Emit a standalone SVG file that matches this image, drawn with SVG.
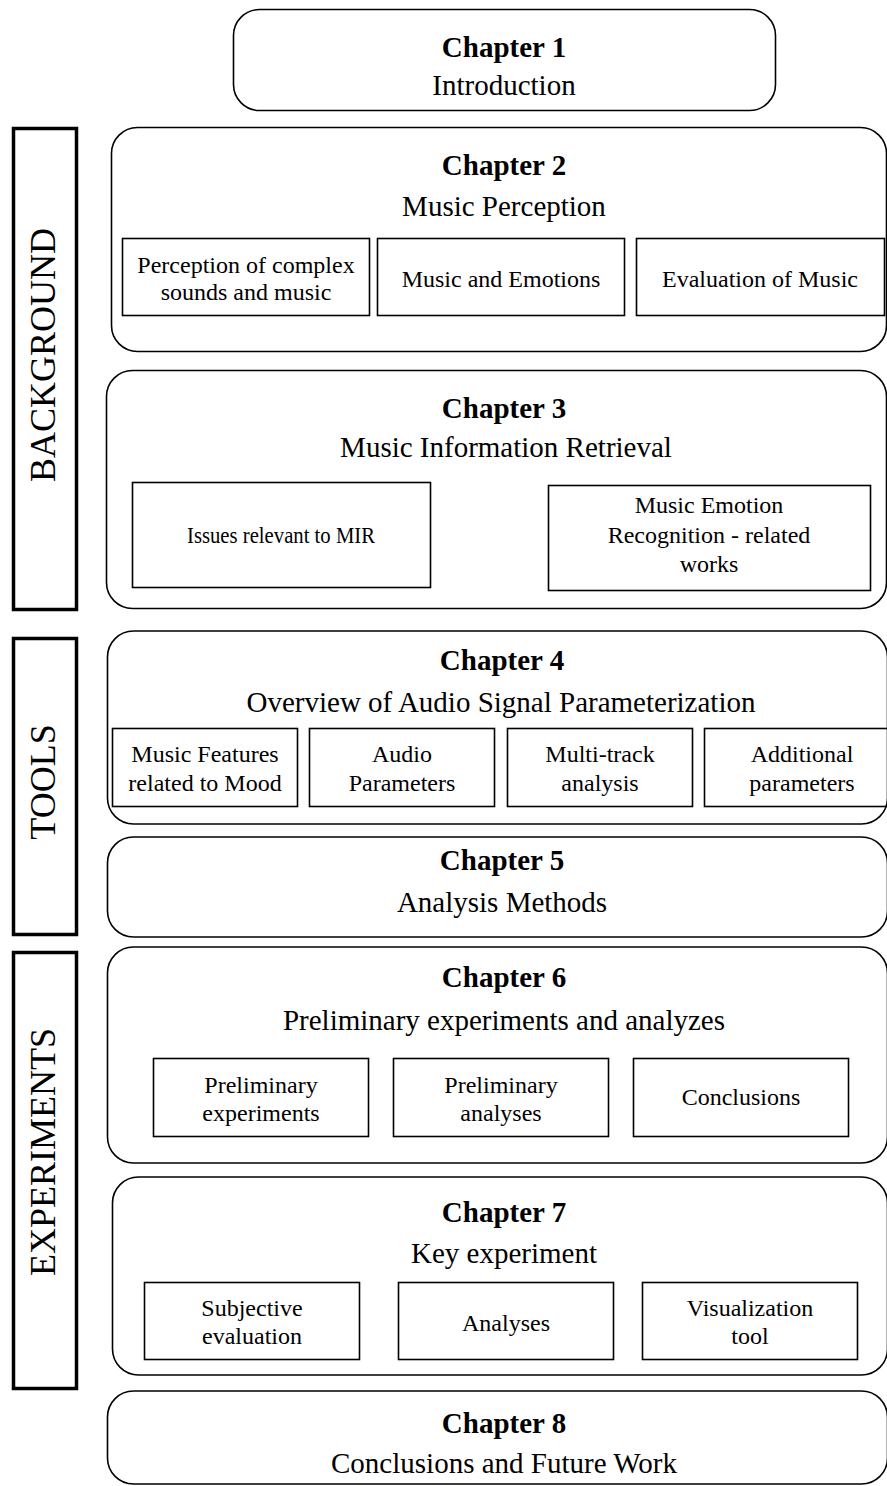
<svg xmlns="http://www.w3.org/2000/svg" width="887" height="1486" viewBox="0 0 887 1486">
  <style>
    .bg { fill: #ffffff; }
    .chapter { fill: none; stroke: #000; stroke-width: 1.6; }
    .sub { fill: none; stroke: #000; stroke-width: 1.6; }
    .band { fill: none; stroke: #000; stroke-width: 3.5; }
    text { font-family: "Liberation Serif", "Times New Roman", serif; fill: #000; text-anchor: middle; }
    .num { font-size: 29px; font-weight: bold; }
    .title { font-size: 29px; }
    .item { font-size: 24px; }
    .side { font-size: 36px; }
  </style>
  <rect class="bg" x="0" y="0" width="887" height="1486"/>

  <!-- part bands on the left -->
  <g id="part-background">
    <rect class="band" x="13.5" y="128.5" width="63" height="481"/>
    <text class="side" transform="rotate(-90 55 355)" x="55" y="355">BACKGROUND</text>
  </g>
  <g id="part-tools">
    <rect class="band" x="13.5" y="638.5" width="63" height="296"/>
    <text class="side" transform="rotate(-90 55 782)" x="55" y="782">TOOLS</text>
  </g>
  <g id="part-experiments">
    <rect class="band" x="13.5" y="952.5" width="63" height="436"/>
    <text class="side" transform="rotate(-90 55 1152)" x="55" y="1152">EXPERIMENTS</text>
  </g>

  <!-- Chapter 1 -->
  <g id="ch1">
    <rect class="chapter" x="233.5" y="9.5" width="542" height="101" rx="26"/>
    <text class="num" x="504" y="56.5">Chapter 1</text>
    <text class="title" x="504" y="94.5">Introduction</text>
  </g>

  <!-- Chapter 2 -->
  <g id="ch2">
    <rect class="chapter" x="111.5" y="127.5" width="775" height="224" rx="26"/>
    <text class="num" x="504" y="174.5">Chapter 2</text>
    <text class="title" x="504" y="215.5">Music Perception</text>
    <g id="ch2-perception">
      <rect class="sub" x="122.5" y="238.5" width="247" height="77"/>
      <text class="item" x="246" y="273">Perception of complex</text>
      <text class="item" x="246" y="300">sounds and music</text>
    </g>
    <g id="ch2-emotions">
      <rect class="sub" x="377.5" y="238.5" width="247" height="77"/>
      <text class="item" x="501" y="287">Music and Emotions</text>
    </g>
    <g id="ch2-evaluation">
      <rect class="sub" x="636.5" y="238.5" width="248" height="77"/>
      <text class="item" x="760" y="287">Evaluation of Music</text>
    </g>
  </g>

  <!-- Chapter 3 -->
  <g id="ch3">
    <rect class="chapter" x="106.5" y="370.5" width="780" height="238" rx="26"/>
    <text class="num" x="504" y="417.5">Chapter 3</text>
    <text class="title" x="506" y="456.5">Music Information Retrieval</text>
    <g id="ch3-issues">
      <rect class="sub" x="132.5" y="482.5" width="298" height="105"/>
      <text class="item" x="281" y="543" textLength="188" lengthAdjust="spacingAndGlyphs">Issues relevant to MIR</text>
    </g>
    <g id="ch3-mer">
      <rect class="sub" x="548.5" y="485.5" width="322" height="105"/>
      <text class="item" x="709" y="513">Music Emotion</text>
      <text class="item" x="709" y="543">Recognition - related</text>
      <text class="item" x="709" y="572">works</text>
    </g>
  </g>

  <!-- Chapter 4 -->
  <g id="ch4">
    <rect class="chapter" x="107.5" y="631" width="780" height="193" rx="26"/>
    <text class="num" x="502" y="669.5">Chapter 4</text>
    <text class="title" x="501" y="711.5">Overview of Audio Signal Parameterization</text>
    <g id="ch4-features">
      <rect class="sub" x="112.5" y="728.5" width="185" height="78"/>
      <text class="item" x="205" y="762">Music Features</text>
      <text class="item" x="205" y="791">related to Mood</text>
    </g>
    <g id="ch4-audio">
      <rect class="sub" x="309.5" y="728.5" width="185" height="78"/>
      <text class="item" x="402" y="762">Audio</text>
      <text class="item" x="402" y="791">Parameters</text>
    </g>
    <g id="ch4-multitrack">
      <rect class="sub" x="507.5" y="728.5" width="185" height="78"/>
      <text class="item" x="600" y="762">Multi-track</text>
      <text class="item" x="600" y="791">analysis</text>
    </g>
    <g id="ch4-additional">
      <rect class="sub" x="704.5" y="728.5" width="196" height="78"/>
      <text class="item" x="802" y="762">Additional</text>
      <text class="item" x="802" y="791">parameters</text>
    </g>
  </g>

  <!-- Chapter 5 -->
  <g id="ch5">
    <rect class="chapter" x="107.5" y="837" width="780" height="100" rx="26"/>
    <text class="num" x="502" y="869.5">Chapter 5</text>
    <text class="title" x="502" y="911.5">Analysis Methods</text>
  </g>

  <!-- Chapter 6 -->
  <g id="ch6">
    <rect class="chapter" x="107.5" y="947" width="780" height="216" rx="26"/>
    <text class="num" x="504" y="986.5">Chapter 6</text>
    <text class="title" x="504" y="1029.5">Preliminary experiments and analyzes</text>
    <g id="ch6-experiments">
      <rect class="sub" x="153.5" y="1058.5" width="215" height="78"/>
      <text class="item" x="261" y="1093">Preliminary</text>
      <text class="item" x="261" y="1121">experiments</text>
    </g>
    <g id="ch6-analyses">
      <rect class="sub" x="393.5" y="1058.5" width="215" height="78"/>
      <text class="item" x="501" y="1093">Preliminary</text>
      <text class="item" x="501" y="1121">analyses</text>
    </g>
    <g id="ch6-conclusions">
      <rect class="sub" x="633.5" y="1058.5" width="215" height="78"/>
      <text class="item" x="741" y="1105">Conclusions</text>
    </g>
  </g>

  <!-- Chapter 7 -->
  <g id="ch7">
    <rect class="chapter" x="112.5" y="1177" width="775" height="198" rx="26"/>
    <text class="num" x="504" y="1221.5">Chapter 7</text>
    <text class="title" x="504" y="1262.5">Key experiment</text>
    <g id="ch7-subjective">
      <rect class="sub" x="144.5" y="1282.5" width="215" height="77"/>
      <text class="item" x="252" y="1316">Subjective</text>
      <text class="item" x="252" y="1344">evaluation</text>
    </g>
    <g id="ch7-analyses">
      <rect class="sub" x="398.5" y="1282.5" width="215" height="77"/>
      <text class="item" x="506" y="1331">Analyses</text>
    </g>
    <g id="ch7-visualization">
      <rect class="sub" x="642.5" y="1282.5" width="215" height="77"/>
      <text class="item" x="750" y="1316">Visualization</text>
      <text class="item" x="750" y="1344">tool</text>
    </g>
  </g>

  <!-- Chapter 8 -->
  <g id="ch8">
    <rect class="chapter" x="107.5" y="1391" width="780" height="93" rx="26"/>
    <text class="num" x="504" y="1432.5">Chapter 8</text>
    <text class="title" x="504" y="1472.5">Conclusions and Future Work</text>
  </g>

  <!-- no connectors in this layout -->
  <g id="connectors"/>
</svg>
